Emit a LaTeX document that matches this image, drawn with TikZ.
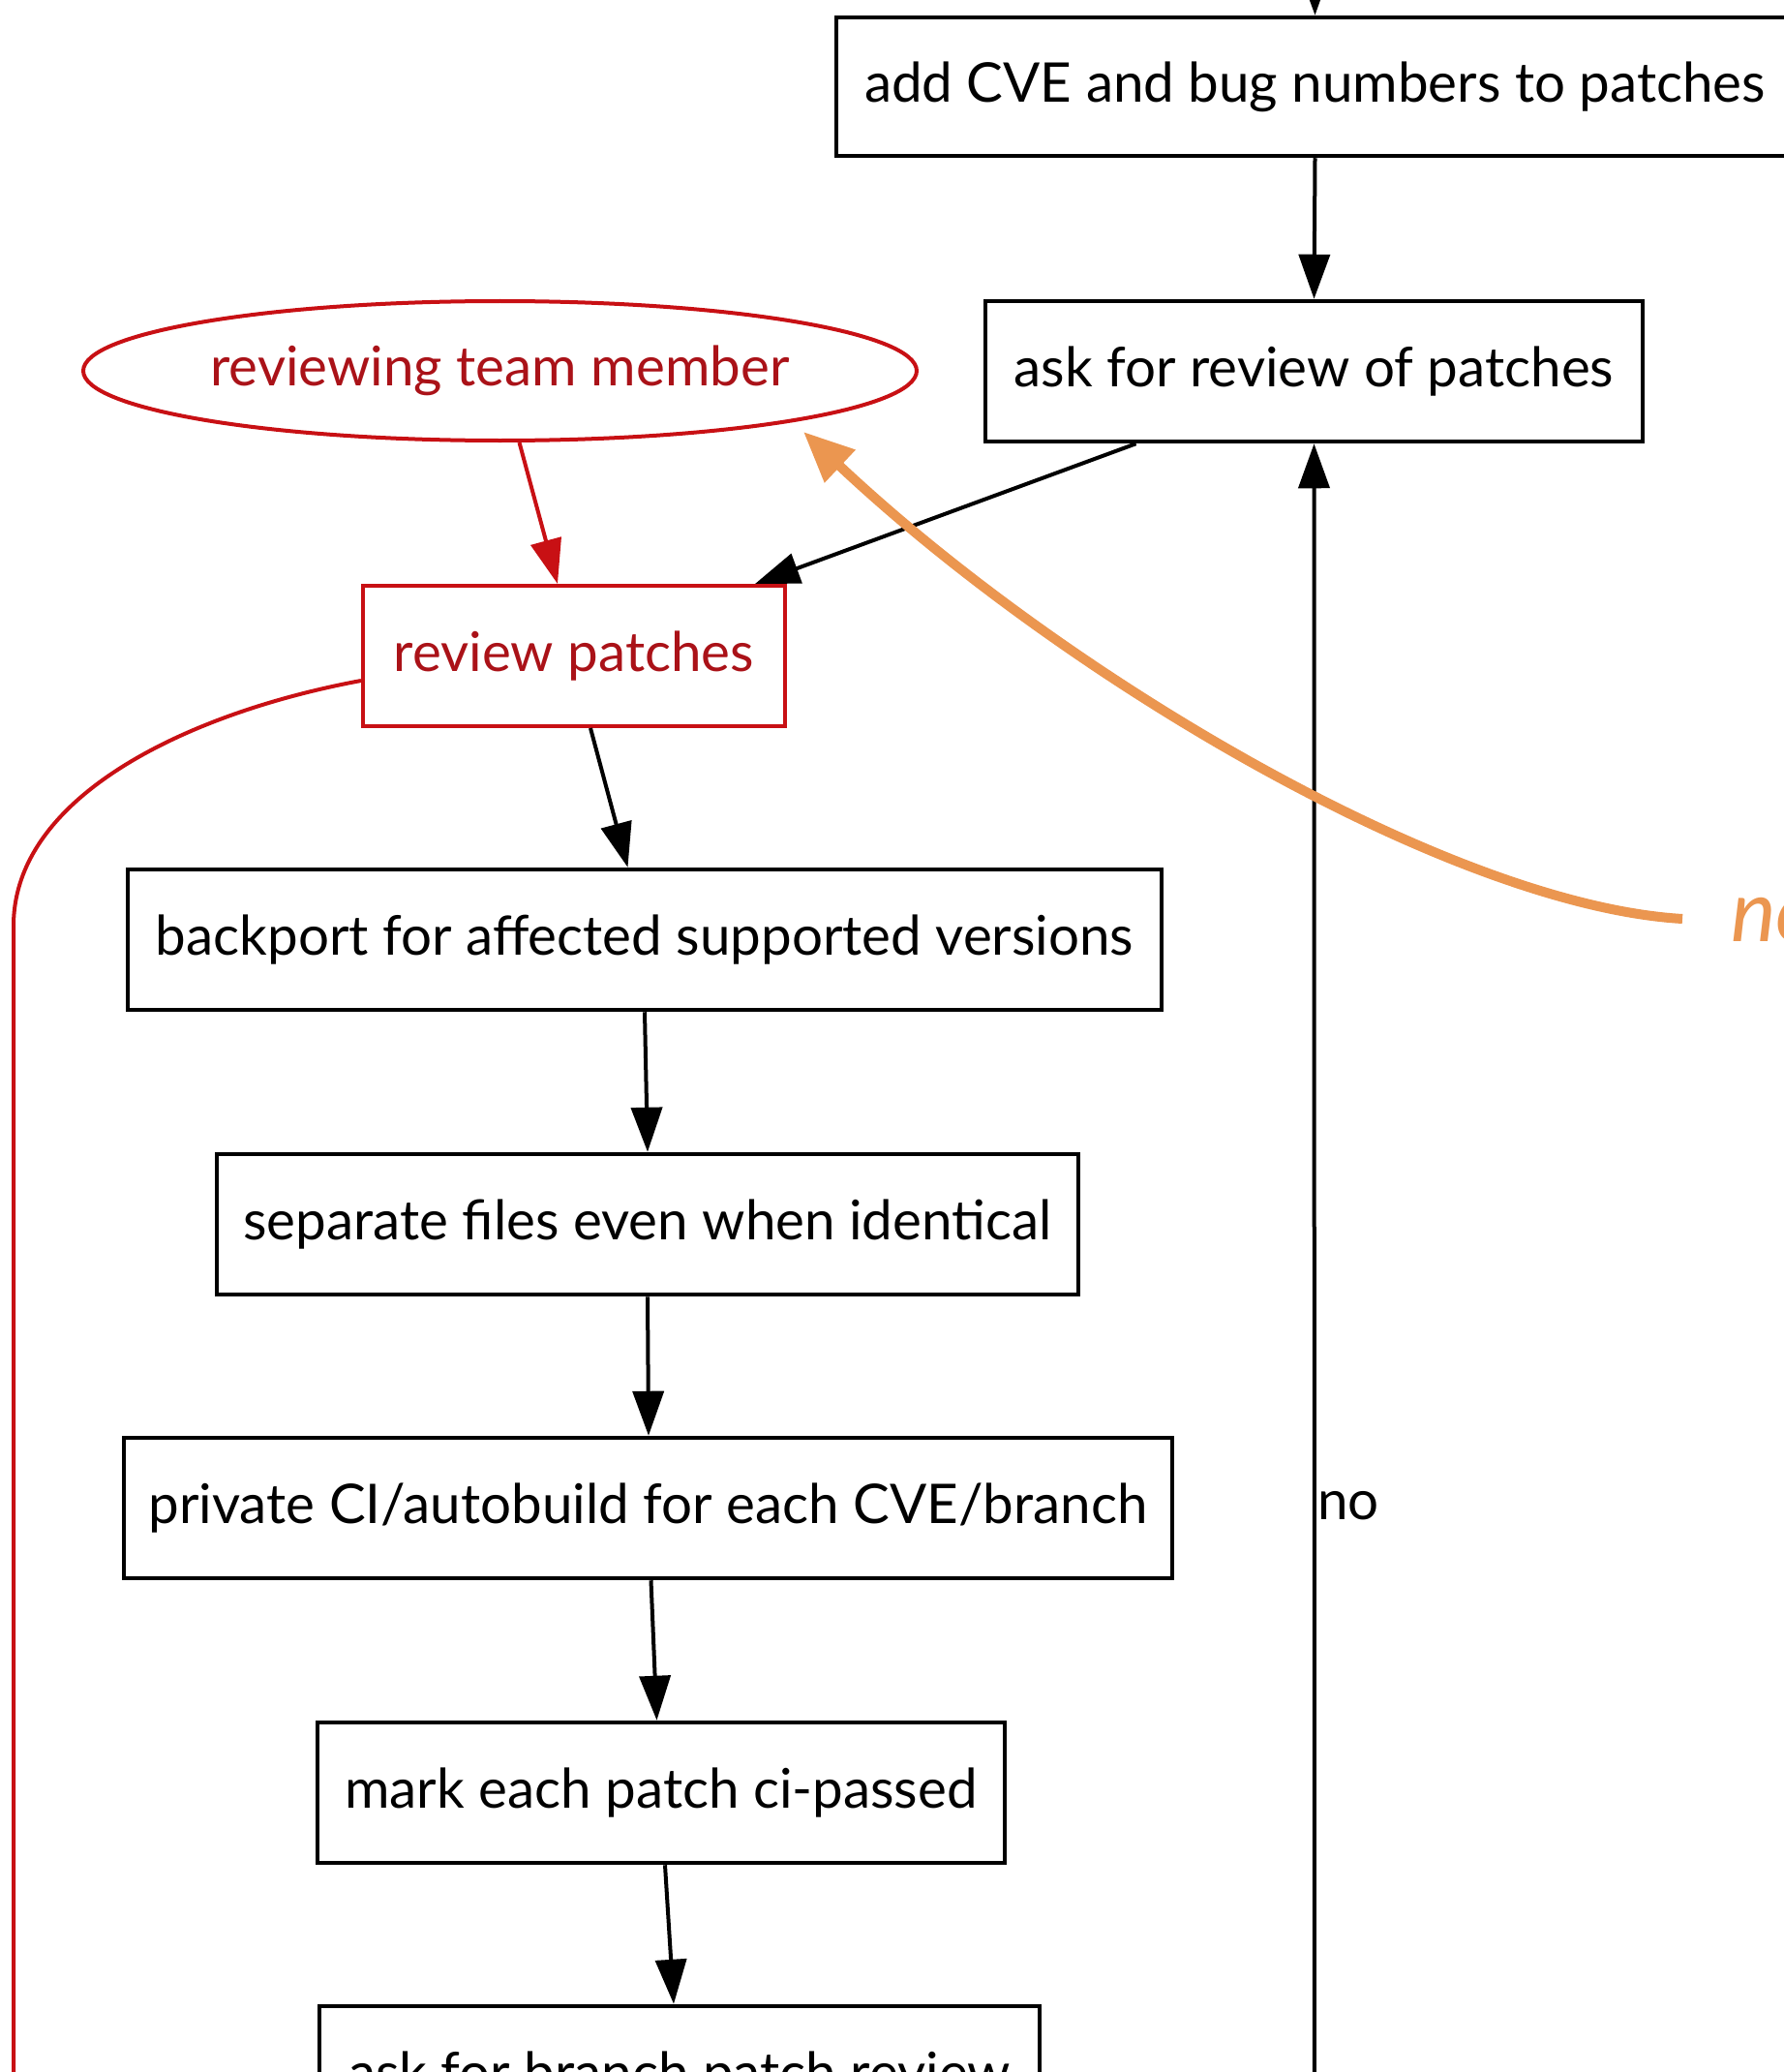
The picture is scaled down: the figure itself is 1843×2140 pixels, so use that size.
\documentclass[tikz,border=0pt]{standalone}
\usepackage{fontspec}
\setmainfont{Lato}
\usetikzlibrary{arrows.meta,calc,shapes.geometric}
\definecolor{revred}{RGB}{200,16,20}
\definecolor{revtext}{RGB}{170,18,24}
\definecolor{noteorange}{RGB}{235,150,80}
\tikzset{
  stepbox/.style={draw=black,line width=4.5pt,rectangle,inner sep=0pt,minimum height=145pt,
    font=\fontsize{56.5}{66}\selectfont,text=black},
  redbox/.style={stepbox,draw=revred,line width=4pt,text=revtext},
  actor/.style={ellipse,draw=revred,line width=4pt,inner sep=0pt,text=revtext,
    font=\fontsize{56.5}{66}\selectfont},
  flow/.style={line width=4pt,-{Triangle[length=46pt,width=32pt]}},
  redflow/.style={flow,draw=revred,fill=revred},
  note/.style={draw=noteorange,line width=10pt,-{Triangle[length=52pt,width=44pt]}},
}
\begin{document}
\begin{tikzpicture}[x=1pt,y=-1pt]
\clip (0,0) rectangle (1843,2140);
\fill[white] (0,0) rectangle (1843,2140);

% process steps
\node[stepbox,minimum width=989pt,minimum height=143pt] (cve) at (1358.5,89.5) {add CVE and bug numbers to patches};
\node[stepbox,minimum width=679pt] (ask) at (1357.5,383.5) {ask for review of patches};
\node[actor,minimum width=861pt,minimum height=144pt] (member) at (516.5,383) {reviewing team member};
\node[redbox,minimum width=436pt] (review) at (593,677.5) {review patches};
\node[stepbox,minimum width=1068pt] (backport) at (666,970.5) {backport for affected supported versions};
\node[stepbox,minimum width=890pt] (separate) at (669,1264.5) {separate files even when identical};
\node[stepbox,minimum width=1083pt] (private) at (669.5,1557.5) {private CI/autobuild for each CVE/branch};
\node[stepbox,minimum width=710pt] (mark) at (683,1851.5) {mark each patch ci-passed};
\node[stepbox,minimum width=744pt] (branch) at (702,2144.5) {ask for branch patch review};

% loose ends of connectors leaving the drawn area
\coordinate (intop) at (1358,-80);
\coordinate (loopbot) at (1358,2220);
\coordinate (redbot) at (14,2220);
\coordinate (notestart) at (1738,949);
\coordinate (notetip) at (830,446);

% connectors
\draw[flow] (intop) -- (cve.north);
\draw[flow] (cve.south) -- (ask.north);
\draw[flow] ($(ask.south)+(-184,0)$) -- ($(review.north east)+(-33,0)$);
\draw[redflow] ($(member.south)+(20,0)$) -- ($(review.north)+(-17,0)$);
\draw[flow] ($(review.south)+(17,0)$) -- ($(backport.north)+(-17.5,0)$);
\draw[flow] (backport.south) -- (separate.north);
\draw[flow] (separate.south) -- ($(private.north)+(0.5,0)$);
\draw[flow] ($(private.south)+(3,0)$) -- ($(mark.north)+(-4.5,0)$);
\draw[flow] ($(mark.south)+(4,0)$) -- ($(branch.north)+(-6,0)$);
\draw[flow] (loopbot) -- (ask.south);
\node[anchor=west,inner sep=0pt,font=\fontsize{56.5}{66}\selectfont] (nolabel) at (1361,1555) {no};

% reviewer loop back
\draw[revred,line width=4pt] ($(review.west)+(0,25.5)$) .. controls (200,735) and (14,820) .. (14,956) -- (redbot);

% annotation
\draw[note] (notestart) .. controls (1500,935) and (1100,700) .. (notetip);
\node[anchor=base west,inner sep=0pt,text=noteorange,font=\fontsize{88}{100}\selectfont\itshape] (notetext) at (1788,972) {no};
\end{tikzpicture}
\end{document}
